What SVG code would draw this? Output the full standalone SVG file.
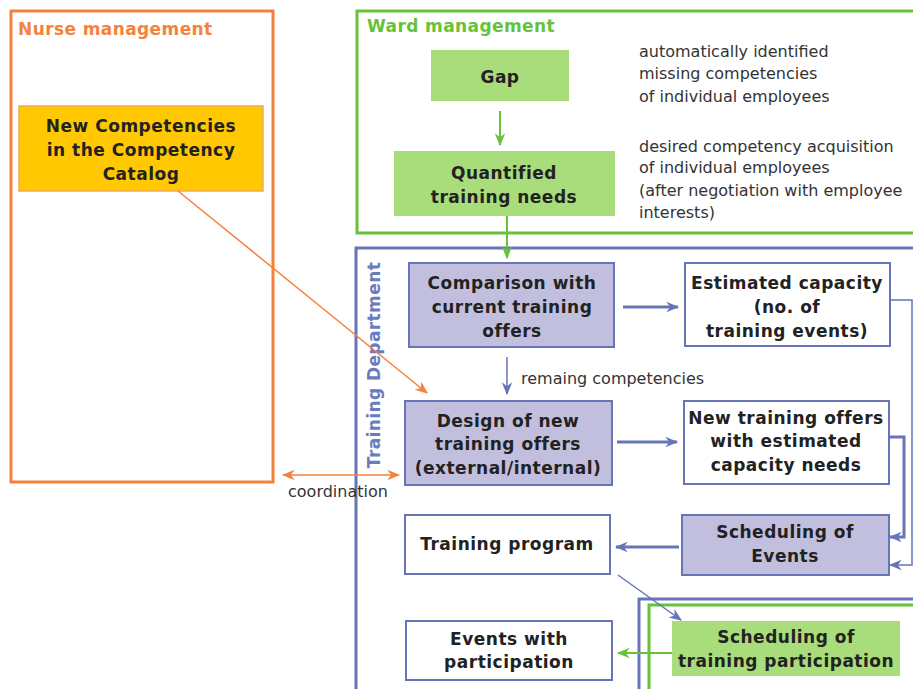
<svg xmlns="http://www.w3.org/2000/svg" width="913" height="689" viewBox="0 0 913 689">
  <style>
    .lbl { font-family: "DejaVu Sans", Verdana, sans-serif; font-weight: bold; font-size: 17px; fill: #222; text-anchor: middle; letter-spacing: 0.5px; }
    .note { font-family: "DejaVu Sans", Verdana, sans-serif; font-size: 16px; fill: #333; }
    .title { font-family: "DejaVu Sans", Verdana, sans-serif; font-weight: bold; font-size: 17px; letter-spacing: 0.4px; }
    .lav { fill: #C1BFDD; stroke: #6674B8; stroke-width: 2; }
    .wht { fill: #fff; stroke: #6674B8; stroke-width: 2; }
    .grn { fill: #A9DC7A; stroke: none; }
    .cb { fill: none; stroke: #6674B8; stroke-width: 3; }
    .cbt { fill: none; stroke: #6674B8; stroke-width: 1.5; }
    .cg { fill: none; stroke: #66C23A; stroke-width: 2; }
    .co { fill: none; stroke: #F5823C; stroke-width: 1.5; }
  </style>
  <defs>
    <marker id="ab" viewBox="0 0 10 10" refX="9" refY="5" markerWidth="13" markerHeight="13" markerUnits="userSpaceOnUse" orient="auto-start-reverse">
      <path d="M0,1 L10,5 L0,9 L3,5 z" fill="#6674B8"/>
    </marker>
    <marker id="ag" viewBox="0 0 10 10" refX="9" refY="5" markerWidth="13" markerHeight="13" markerUnits="userSpaceOnUse" orient="auto-start-reverse">
      <path d="M0,1 L10,5 L0,9 L3,5 z" fill="#66C23A"/>
    </marker>
    <marker id="ao" viewBox="0 0 10 10" refX="9" refY="5" markerWidth="13" markerHeight="13" markerUnits="userSpaceOnUse" orient="auto-start-reverse">
      <path d="M0,1 L10,5 L0,9 L3,5 z" fill="#F5823C"/>
    </marker>
  </defs>

  <rect width="913" height="689" fill="#fff"/>

  <!-- swimlanes -->
  <g id="lane-nurse">
    <rect x="11" y="11" width="262" height="471" fill="none" stroke="#F5823C" stroke-width="3"/>
    <text class="title" x="18" y="35" fill="#F5823C">Nurse management</text>
  </g>
  <g id="lane-ward">
    <rect x="357" y="11" width="560" height="222" fill="none" stroke="#66C23A" stroke-width="3"/>
    <text class="title" x="367" y="32" fill="#66C23A">Ward management</text>
  </g>
  <g id="lane-training">
    <rect x="356" y="248" width="562" height="450" fill="none" stroke="#6674B8" stroke-width="3"/>
    <text class="title" transform="translate(380,365) rotate(-90)" text-anchor="middle" fill="#6A7BBF">Training Department</text>
  </g>
  <g id="lane-participation">
    <rect x="639" y="599" width="280" height="100" fill="none" stroke="#6674B8" stroke-width="3"/>
    <rect x="649" y="605" width="270" height="90" fill="none" stroke="#66C23A" stroke-width="3"/>
  </g>

  <!-- nodes -->
  <g id="new-competencies">
    <rect x="19" y="106" width="244" height="85" fill="#FFC800" stroke="#F8A850" stroke-width="1.5"/>
    <text class="lbl" x="141" y="132">New Competencies</text>
    <text class="lbl" x="141" y="156">in the Competency</text>
    <text class="lbl" x="141" y="180">Catalog</text>
  </g>
  <g id="gap">
    <rect class="grn" x="431" y="50" width="138" height="51"/>
    <text class="lbl" x="500" y="83">Gap</text>
  </g>
  <g id="quantified-needs">
    <rect class="grn" x="394" y="151" width="221" height="65"/>
    <text class="lbl" x="504" y="179">Quantified</text>
    <text class="lbl" x="504" y="203">training needs</text>
  </g>
  <g id="note-gap">
    <text class="note" x="639" y="57">automatically identified</text>
    <text class="note" x="639" y="79">missing competencies</text>
    <text class="note" x="639" y="102">of individual employees</text>
  </g>
  <g id="note-needs">
    <text class="note" x="639" y="152">desired competency acquisition</text>
    <text class="note" x="639" y="173">of individual employees</text>
    <text class="note" x="639" y="196">(after negotiation with employee</text>
    <text class="note" x="639" y="218">interests)</text>
  </g>
  <g id="comparison">
    <rect class="lav" x="409" y="263" width="205" height="84"/>
    <text class="lbl" x="512" y="289">Comparison with</text>
    <text class="lbl" x="512" y="313">current training</text>
    <text class="lbl" x="512" y="337">offers</text>
  </g>
  <g id="estimated-capacity">
    <rect class="wht" x="685" y="263" width="205" height="83" stroke-width="1.5"/>
    <text class="lbl" x="787" y="289">Estimated capacity</text>
    <text class="lbl" x="787" y="313">(no. of</text>
    <text class="lbl" x="787" y="337">training events)</text>
  </g>
  <g id="design">
    <rect class="lav" x="405" y="401" width="207" height="84"/>
    <text class="lbl" x="508" y="427">Design of new</text>
    <text class="lbl" x="508" y="450">training offers</text>
    <text class="lbl" x="508" y="474">(external/internal)</text>
  </g>
  <g id="new-offers">
    <rect class="wht" x="684" y="401" width="205" height="83"/>
    <text class="lbl" x="786" y="424">New training offers</text>
    <text class="lbl" x="786" y="447">with estimated</text>
    <text class="lbl" x="786" y="471">capacity needs</text>
  </g>
  <g id="scheduling-events">
    <rect class="lav" x="682" y="515" width="207" height="60"/>
    <text class="lbl" x="785" y="538">Scheduling of</text>
    <text class="lbl" x="785" y="562">Events</text>
  </g>
  <g id="training-program">
    <rect class="wht" x="405" y="515" width="205" height="59"/>
    <text class="lbl" x="507" y="550">Training program</text>
  </g>
  <g id="events-participation">
    <rect class="wht" x="406" y="621" width="206" height="59"/>
    <text class="lbl" x="509" y="645">Events with</text>
    <text class="lbl" x="509" y="668">participation</text>
  </g>
  <g id="scheduling-participation">
    <rect class="grn" x="672" y="621" width="228" height="55"/>
    <text class="lbl" x="786" y="643">Scheduling of</text>
    <text class="lbl" x="786" y="667">training participation</text>
  </g>

  <!-- connectors -->
  <g id="connectors">
    <line class="cg" x1="500" y1="111" x2="500" y2="145" marker-end="url(#ag)"/>
    <line class="cg" x1="507" y1="216" x2="507" y2="258" marker-end="url(#ag)"/>
    <line class="cb" x1="623" y1="307" x2="678" y2="307" marker-end="url(#ab)"/>
    <line class="cbt" x1="507" y1="357" x2="507" y2="394" stroke-width="2" marker-end="url(#ab)"/>
    <text class="note" x="521" y="384" font-size="15">remaing competencies</text>
    <line class="cb" x1="617" y1="442" x2="677" y2="442" marker-end="url(#ab)"/>
    <polyline class="cbt" points="890,300 912,300 912,565 890,565" marker-end="url(#ab)"/>
    <polyline class="cb" stroke-width="2" points="889,437 904,437 904,537 890,537" marker-end="url(#ab)"/>
    <line class="cb" x1="679" y1="547" x2="616" y2="547" marker-end="url(#ab)"/>
    <line class="cbt" x1="618" y1="575" x2="681" y2="620" marker-end="url(#ab)"/>
    <line class="cg" stroke-width="3" x1="672" y1="653" x2="618" y2="653" marker-end="url(#ag)"/>
    <line class="co" x1="178" y1="191" x2="427" y2="393" marker-end="url(#ao)"/>
    <line class="co" x1="283" y1="475" x2="399" y2="475" marker-start="url(#ao)" marker-end="url(#ao)"/>
    <text class="note" x="288" y="497" font-size="15">coordination</text>
  </g>
</svg>
